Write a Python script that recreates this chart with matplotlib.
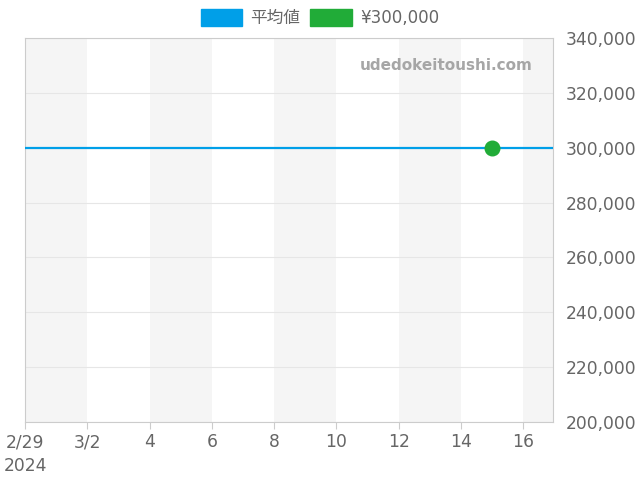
import pandas as pd
import matplotlib.pyplot as plt
import matplotlib.dates as mdates
from matplotlib.patches import Patch

plt.rcParams['font.family'] = ['DejaVu Sans', 'Noto Sans CJK JP']

# data
avg_dates = pd.to_datetime(['2024-02-29', '2024-03-17'])
avg_values = [300000, 300000]
point_dates = pd.to_datetime(['2024-03-15'])
point_values = [300000]
series_labels = ['平均値', '¥300,000']
tick_dates = pd.to_datetime(['2024-02-29', '2024-03-02', '2024-03-04', '2024-03-06', '2024-03-08',
                             '2024-03-10', '2024-03-12', '2024-03-14', '2024-03-16'])
tick_labels = ['2/29\n2024', '3/2', '4', '6', '8', '10', '12', '14', '16']
band_starts = pd.to_datetime(['2024-02-29', '2024-03-04', '2024-03-08', '2024-03-12', '2024-03-16'])
band_ends = pd.to_datetime(['2024-03-02', '2024-03-06', '2024-03-10', '2024-03-14', '2024-03-18'])

fig = plt.figure(figsize=(6.4, 4.8), dpi=100)
ax = fig.add_axes([25 / 640, 58 / 480, 528 / 640, 384 / 480])

for s, e in zip(band_starts, band_ends):
    ax.axvspan(s, e, color='#f5f5f5', lw=0, zorder=0)

ax.plot(avg_dates, avg_values, color='#009fe8', lw=1.6, zorder=3)
ax.scatter(point_dates, point_values, s=110, color='#21ac38', zorder=4)

ax.set_xlim(pd.Timestamp('2024-02-29'), pd.Timestamp('2024-03-16 23:00'))
ax.set_ylim(200000, 340000)
ax.set_yticks(range(200000, 340001, 20000))
ax.yaxis.tick_right()
ax.yaxis.set_major_formatter(plt.FuncFormatter(lambda v, p: f'{int(v):,}'))
ax.tick_params(axis='y', length=0, pad=9, labelsize=12.3, labelcolor='#666666')
ax.set_xticks(tick_dates)
ax.set_xticklabels(tick_labels, ha='center', linespacing=1.45)
ax.tick_params(axis='x', length=5, color='#cccccc', labelsize=12.3, labelcolor='#666666', pad=3)
ax.grid(axis='y', color='#e6e6e6', lw=0.8)
ax.set_axisbelow(True)
for sp in ax.spines.values():
    sp.set_color('#cccccc')

ax.text(0.962, 0.928, 'udedokeitoushi.com', transform=ax.transAxes, ha='right', va='center',
        fontsize=11, fontweight='bold', color='#a6a6a6')

handles = [Patch(color='#009fe8'), Patch(color='#21ac38')]
fig.legend(handles, series_labels, loc='center', bbox_to_anchor=(320 / 640, 1 - 18 / 480), ncol=2,
           frameon=False, fontsize=12, handlelength=2.5, handleheight=1.2, columnspacing=0.6,
           handletextpad=0.5, labelcolor='#666666')

fig.savefig('out.png', dpi=100)
